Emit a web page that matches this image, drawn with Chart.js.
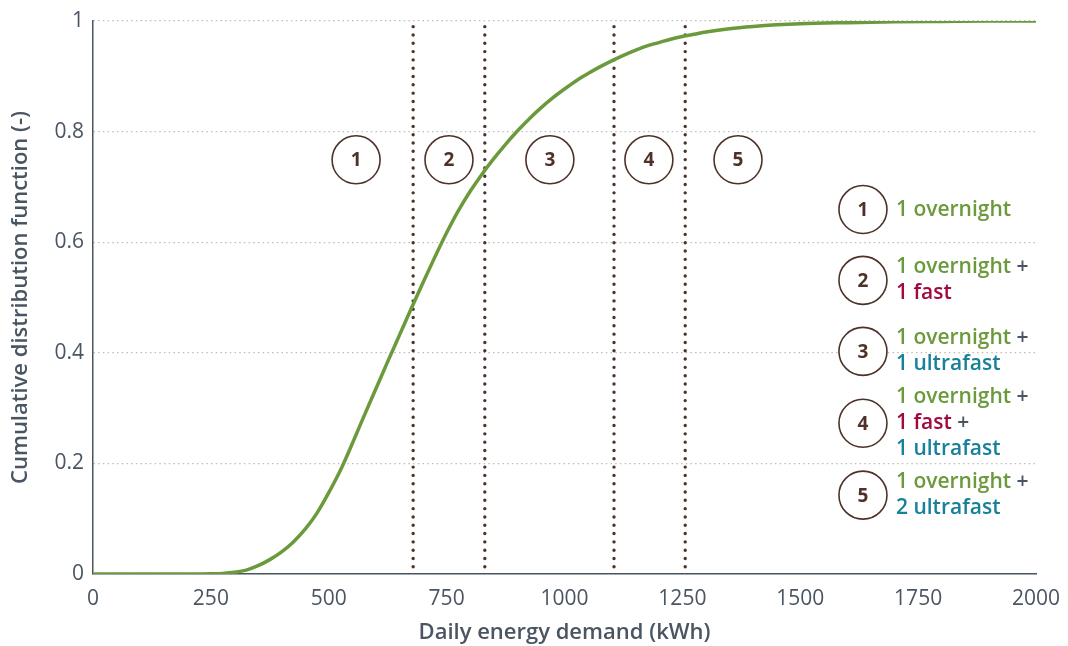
<!DOCTYPE html>
<html><head><meta charset="utf-8">
<script src="https://cdn.jsdelivr.net/npm/chart.js@4/dist/chart.umd.min.js"></script>
<style>html,body{margin:0;padding:0;background:#fff}#wrap{width:1068px;height:646px}</style>
</head><body><div id="wrap"><canvas id="c" width="1068" height="646"></canvas></div>
<script>
// ---- data ----
const demand = [0,200,250,275,300,325,350,375,400,425,450,475,500,525,550,575,600,625,650,675,700,725,750,775,800,825,850,875,900,925,950,975,1000,1025,1050,1075,1100,1125,1150,1175,1200,1225,1250,1275,1300,1350,1400,1450,1500,1600,1700,1800,1900,2000];
const cdf    = [0,0,0.0003,0.001,0.003,0.007,0.015,0.026,0.040,0.058,0.081,0.110,0.147,0.188,0.236,0.286,0.335,0.384,0.432,0.480,0.527,0.573,0.617,0.657,0.692,0.723,0.751,0.777,0.801,0.823,0.843,0.861,0.877,0.892,0.905,0.917,0.928,0.938,0.947,0.955,0.961,0.967,0.972,0.976,0.980,0.986,0.990,0.993,0.995,0.997,0.9985,0.9993,1.0,1.0];
const xTicks = [0,250,500,750,1000,1250,1500,1750,2000];
const yTicks = [0,0.2,0.4,0.6,0.8,1];
const thresholds = [679, 831, 1105, 1256];
const thresholdRange = [0.013, 1];
const zoneLabels = ['1','2','3','4','5'];
const zoneX = [558, 755, 969, 1179, 1368];
const zoneY = 0.749;
const legendLabels = ['1','2','3','4','5'];
const legendX = 1633;
const legendY = [0.659, 0.531, 0.4025, 0.2726, 0.1426];
const legendLines = [
  [[['1 overnight','g']]],
  [[['1 overnight','g'],[' +','p']],[['1 fast','r']]],
  [[['1 overnight','g'],[' +','p']],[['1 ultrafast','t']]],
  [[['1 overnight','g'],[' +','p']],[['1 fast','r'],[' +','p']],[['1 ultrafast','t']]],
  [[['1 overnight','g'],[' +','p']],[['2 ultrafast','t']]]
];

// ---- styles ----
const GREEN = '#6a9a3c', RED = '#a10a40', TEAL = '#18819a', GREY = '#4a5562', BROWN = '#4e3229';
const textColors = {g: GREEN, r: RED, t: TEAL, p: GREY};
const FONT = "'Open Sans', 'DejaVu Sans', sans-serif";
Chart.defaults.font.family = FONT;

const datasets = [];
datasets.push({
  label: 'CDF', data: demand.map((x, i) => ({x, y: cdf[i]})),
  borderColor: GREEN, borderWidth: 3.5, pointRadius: 0, cubicInterpolationMode: 'monotone', order: 0
});
thresholds.forEach((t, i) => datasets.push({
  label: 'th' + i, data: [{x: t, y: thresholdRange[0]}, {x: t, y: thresholdRange[1]}],
  borderColor: BROWN, borderWidth: 3.4, borderDash: [0.01, 8.3], borderCapStyle: 'round',
  pointRadius: 0, order: 2
}));
datasets.push({
  label: 'zones', data: zoneX.map(x => ({x, y: zoneY})), showLine: false,
  pointRadius: 24, pointHoverRadius: 24, pointBackgroundColor: '#fff', pointBorderColor: BROWN, pointBorderWidth: 1.6, order: 1
});
datasets.push({
  label: 'legend', data: legendY.map(y => ({x: legendX, y})), showLine: false,
  pointRadius: 24, pointHoverRadius: 24, pointBackgroundColor: '#fff', pointBorderColor: BROWN, pointBorderWidth: 1.6, order: 1
});

const annot = {
  id: 'annot',
  afterDatasetsDraw(chart) {
    const ctx = chart.ctx;
    const xs = chart.scales.x, ys = chart.scales.y;
    ctx.save();
    ctx.fillStyle = BROWN;
    ctx.font = "bold 19px " + FONT;
    ctx.textAlign = 'center'; ctx.textBaseline = 'middle';
    zoneX.forEach((x, i) => ctx.fillText(zoneLabels[i], xs.getPixelForValue(x), ys.getPixelForValue(zoneY) + 1));
    legendY.forEach((y, i) => ctx.fillText(legendLabels[i], xs.getPixelForValue(legendX), ys.getPixelForValue(y) + 1));
    ctx.textAlign = 'left';
    ctx.font = "600 21px " + FONT;
    legendLines.forEach((lines, i) => {
      const cy = ys.getPixelForValue(legendY[i]);
      const n = lines.length;
      lines.forEach((segs, j) => {
        const ly = cy + (j - (n - 1) / 2) * 26;
        let lx = xs.getPixelForValue(legendX) + 33;
        segs.forEach(([txt, c]) => {
          ctx.fillStyle = textColors[c];
          ctx.fillText(txt, lx, ly);
          lx += ctx.measureText(txt).width;
        });
      });
    });
    ctx.restore();
  }
};

new Chart(document.getElementById('c'), {
  type: 'line',
  data: {datasets},
  plugins: [annot],
  options: {
    responsive: false, animation: false,
    layout: {autoPadding: false, padding: {left: 0, right: 32, top: 21, bottom: 0}},
    plugins: {legend: {display: false}, tooltip: {enabled: false}},
    scales: {
      x: {
        type: 'linear', min: 0, max: 2000,
        afterBuildTicks: s => { s.ticks = xTicks.map(v => ({value: v})); },
        afterFit: s => { s.height = 72; s.paddingLeft = 0; s.paddingRight = 0; },
        grid: {display: false, drawTicks: false},
        border: {display: true, color: GREY, width: 1.5},
        ticks: {color: GREY, font: {size: 21}, padding: 12, maxRotation: 0, autoSkip: false, callback: v => String(v)},
        title: {display: true, text: 'Daily energy demand (kWh)', color: GREY, font: {size: 22, weight: '600'}, padding: {top: 0, bottom: 0}}
      },
      y: {
        type: 'linear', min: 0, max: 1,
        afterBuildTicks: s => { s.ticks = yTicks.map(v => ({value: v})); },
        afterFit: s => { s.width = 93; s.paddingTop = 0; s.paddingBottom = 0; },
        grid: {color: '#bdbdbd', lineWidth: 1.3, drawTicks: false},
        border: {display: true, color: GREY, width: 1.5, dash: [1.5, 3.2]},
        ticks: {color: GREY, font: {size: 21}, padding: 9, callback: v => String(v)},
        title: {display: true, text: 'Cumulative distribution function (-)', color: GREY, font: {size: 22, weight: '600'}, padding: {top: 8, bottom: 0}}
      }
    }
  }
});
</script></body></html>
